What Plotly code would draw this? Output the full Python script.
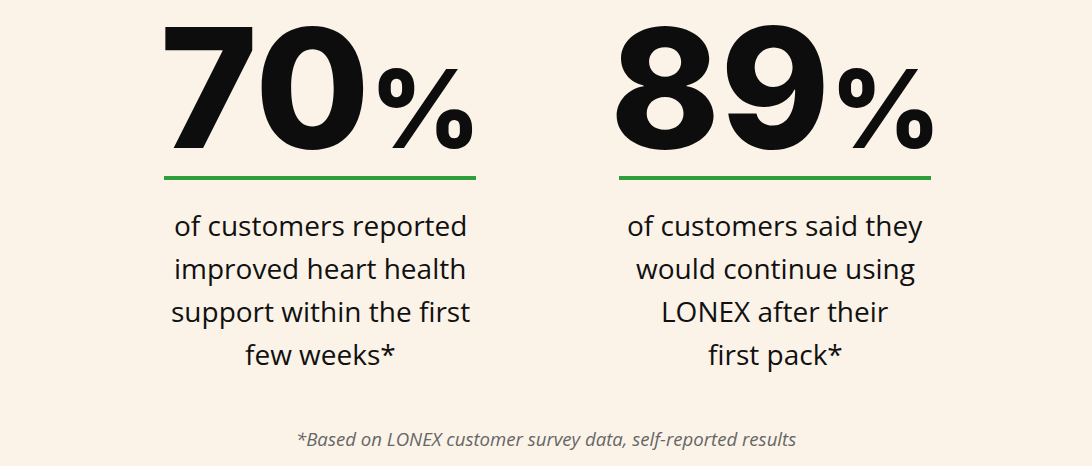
import plotly.graph_objects as go

# stat values and their captions
stat_values = [70, 89]
stat_captions = [
    ["of customers reported", "improved heart health", "support within the first", "few weeks*"],
    ["of customers said they", "would continue using", "LONEX after their", "first pack*"],
]
footnote = "*Based on LONEX customer survey data, self-reported results"

BG = "#FBF3E8"
GREEN = "#2F9E3A"
W, H = 1092, 466

col_x = [320, 775]      # column centres (px)
num_base = 154          # baseline of the big numbers
line_y = 178            # green rule
half_rule = 156
cap_base0 = 238         # baseline of first caption line
cap_step = 43

fig = go.Figure()
fig.update_xaxes(range=[0, W], visible=False, fixedrange=True)
fig.update_yaxes(range=[H, 0], visible=False, fixedrange=True)

for cx, val, lines in zip(col_x, stat_values, stat_captions):
    fig.add_annotation(
        x=cx, y=num_base + 36, xref="x", yref="y", xanchor="center", yanchor="bottom",
        text=f"{val}<span style='font-size:108px'>%</span>",
        showarrow=False,
        font=dict(family="Inter", size=166, color="#0d0d0d", weight=800),
    )
    fig.add_shape(type="line", x0=cx - half_rule, x1=cx + half_rule, y0=line_y, y1=line_y,
                  line=dict(color=GREEN, width=4))
    for i, ln in enumerate(lines):
        fig.add_annotation(
            x=cx, y=cap_base0 + i * cap_step + 8, xref="x", yref="y",
            xanchor="center", yanchor="bottom", text=ln, showarrow=False,
            font=dict(family="Open Sans", size=28, color="#111111"),
        )

fig.add_annotation(
    x=W / 2, y=453, xref="x", yref="y", xanchor="center", yanchor="bottom",
    text=f"<i>{footnote}</i>", showarrow=False,
    font=dict(family="Open Sans", size=18.6, color="#666666"),
)

fig.update_layout(
    width=W, height=H, margin=dict(l=0, r=0, t=0, b=0),
    paper_bgcolor=BG, plot_bgcolor=BG, showlegend=False,
)

fig.write_html(
    "out.html",
    config={"displayModeBar": False},
    post_script="document.body.style.margin='0';document.body.style.background='#FBF3E8';",
)
